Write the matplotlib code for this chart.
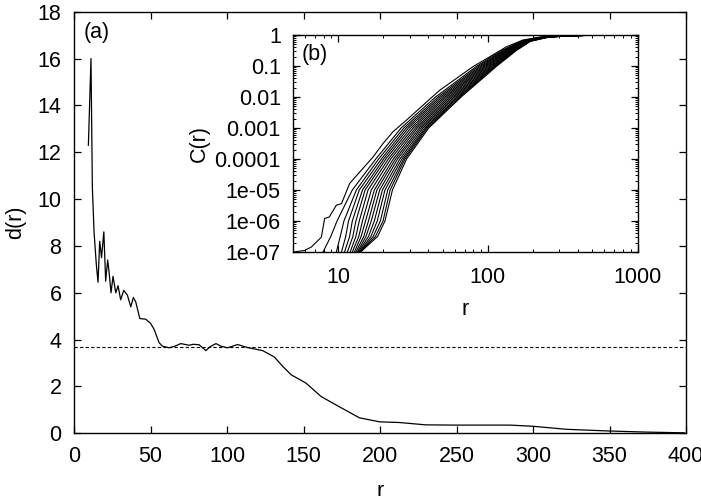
import matplotlib
matplotlib.use('Agg')
import matplotlib.pyplot as plt
import numpy as np
from matplotlib.ticker import FixedLocator, FixedFormatter, LogLocator, NullFormatter

plt.rcParams['font.family'] = ['Liberation Sans', 'DejaVu Sans']

# ---------------- main panel (a) ----------------
r_main = [9.4, 11.1, 12.0, 13.1, 14.6, 15.7, 16.8, 18.0, 19.5, 20.7, 22.0, 22.9,
          24.2, 25.5, 27.3, 28.8, 30.5, 32.5, 34.9, 37.1, 38.8, 40.4, 43.0, 46.9,
          50.0, 52.4, 55.6, 57.8, 62.2, 66.0, 69.8, 75.2, 78.0, 81.8, 86.2, 89.0,
          92.8, 96.0, 100.4, 106.9, 113.5, 123.3, 130.9, 136.4, 141.9, 151.7,
          161.5, 173.5, 186.6, 199.7, 212.8, 230.0, 250.0, 270.0, 285.0, 300.0,
          322.0, 349.0, 375.0, 399.0]
d_main = [12.3, 16.0, 10.5, 8.6, 7.2, 6.45, 8.2, 7.5, 8.6, 6.5, 7.4, 6.9,
          6.0, 6.7, 6.0, 6.3, 5.7, 6.1, 5.9, 5.4, 5.8, 5.6, 4.9, 4.87,
          4.7, 4.43, 3.87, 3.72, 3.65, 3.72, 3.83, 3.76, 3.8, 3.78, 3.53, 3.7,
          3.83, 3.72, 3.65, 3.79, 3.66, 3.53, 3.26, 2.86, 2.5, 2.14,
          1.57, 1.13, 0.66, 0.49, 0.46, 0.36, 0.35, 0.35, 0.35, 0.3,
          0.17, 0.1, 0.05, 0.02]
d_plateau = 3.7
main_xticks = [0, 50, 100, 150, 200, 250, 300, 350, 400]
main_yticks = [0, 2, 4, 6, 8, 10, 12, 14, 16, 18]

# ---------------- inset panel (b) ----------------
# leftmost curve, read in detail (r, log10 C)
inset_c0_r = [5.0, 5.95, 6.6, 7.7, 8.1, 8.7, 9.7, 10.5, 11.9, 13.9, 17.1, 19.9,
              23.2, 28.5, 36.9, 47.7, 61.6, 79.5, 103, 133, 172, 223, 300, 600]
inset_c0_logc = [-7.0, -6.95, -6.84, -6.52, -5.92, -5.87, -5.49, -5.44, -4.79,
                 -4.42, -3.93, -3.5, -3.12, -2.75, -2.26, -1.78, -1.4, -1.02,
                 -0.70, -0.38, -0.16, -0.07, -0.03, 0.0]
# other curves: r where log10 C reaches each level (curves 1..15, left to right)
inset_levels = [-7, -6.5, -6, -5, -4, -3, -2, -1, -0.5, -0.2, -0.08, -0.03, 0]
inset_r_at_level = [
    [7.9, 9.7, 10.5, 11.0, 11.5, 12.0, 12.4, 12.8, 13.1, 13.4, 13.6, 13.8, 13.9, 14.0, 14.1],
    [8.9, 10.3, 11.2, 11.9, 12.5, 13.1, 13.7, 14.2, 14.8, 15.3, 15.9, 16.5, 17.1, 17.7, 18.3],
    [9.8, 10.9, 11.7, 12.4, 13.1, 13.8, 14.5, 15.2, 15.9, 16.6, 17.4, 18.2, 19.1, 19.9, 20.5],
    [12.4, 13.2, 13.8, 14.5, 15.1, 15.8, 16.6, 17.4, 18.1, 18.9, 19.7, 20.5, 21.4, 22.2, 23.0],
    [17.8, 18.6, 19.4, 20.1, 20.8, 21.6, 22.4, 23.3, 24.1, 24.9, 25.8, 26.6, 27.3, 27.9, 28.6],
    [26.3, 27.4, 28.4, 29.4, 30.5, 31.6, 32.7, 33.7, 34.8, 35.8, 36.8, 37.8, 38.6, 39.4, 40.2],
    [44.7, 46.5, 48.1, 49.7, 51.3, 52.8, 54.5, 56.1, 57.7, 59.3, 60.8, 62.4, 63.7, 65.0, 66.2],
    [84.5, 87.1, 89.5, 91.8, 94.2, 96.4, 98.6, 100.9, 103.3, 105.4, 107.6, 109.6, 111.4, 113.2, 114.8],
    [123.9, 126.8, 129.4, 131.8, 134.3, 136.8, 139.3, 141.6, 143.9, 146.2, 148.3, 150.3, 152.1, 153.5, 154.9],
    [167, 169, 171, 173, 175, 177, 179, 181, 183, 185, 187, 189, 190.5, 192, 193],
    [217.5, 220, 222.5, 225, 227.5, 230, 232, 234, 236, 238, 240, 242, 245, 247.5, 250],
    [302, 304, 306, 308, 310, 312, 314, 316, 318, 320, 322, 324, 326, 328, 330],
    [600, 600, 600, 600, 600, 600, 600, 600, 600, 600, 600, 600, 600, 600, 600],
]
inset_xticks = [10, 100, 1000]
inset_xticklabels = ['10', '100', '1000']
inset_yticks = [1e-7, 1e-6, 1e-5, 1e-4, 1e-3, 1e-2, 1e-1, 1]
inset_yticklabels = ['1e-07', '1e-06', '1e-05', '0.0001', '0.001', '0.01', '0.1', '1']

FS = 15.5
W, H = 701, 496
fig = plt.figure(figsize=(W / 100, H / 100), dpi=100)

# main axes
ax = fig.add_axes([74 / W, 1 - 433.3 / H, (686 - 74) / W, (433.3 - 11.7) / H])
ax.plot(r_main, d_main, color='black', lw=0.9)
ax.axhline(d_plateau, color='black', lw=0.8, ls=(0, (3, 2)))
ax.set_xlim(0, 400)
ax.set_ylim(0, 18)
ax.set_xticks(main_xticks)
ax.set_yticks(main_yticks)
ax.tick_params(direction='in', top=True, right=True, length=5, width=0.9,
               labelsize=FS, pad=9)
for s in ax.spines.values():
    s.set_linewidth(1.0)
ax.set_xlabel('r', fontsize=FS, labelpad=10)
ax.set_ylabel('d(r)', fontsize=FS, labelpad=8)
ax.text(0.015, 0.975, '(a)', transform=ax.transAxes, va='top', ha='left', fontsize=FS)

# inset axes
ai = fig.add_axes([293.3 / W, 1 - 252 / H, (637.5 - 293.3) / W, (252 - 35) / H])
ai.set_facecolor('white')
ai.plot(inset_c0_r, [10 ** v for v in inset_c0_logc], color='black', lw=0.8)
ncurves = len(inset_r_at_level[0])
for k in range(ncurves):
    rr = [row[k] for row in inset_r_at_level]
    cc = [10 ** v for v in inset_levels]
    ai.plot(rr, cc, color='black', lw=0.8)
ai.set_xscale('log')
ai.set_yscale('log')
ai.set_xlim(5, 1000)
ai.set_ylim(1e-7, 1)
ai.xaxis.set_major_locator(FixedLocator(inset_xticks))
ai.xaxis.set_major_formatter(FixedFormatter(inset_xticklabels))
ai.xaxis.set_minor_locator(LogLocator(base=10, subs=np.arange(2, 10), numticks=20))
ai.xaxis.set_minor_formatter(NullFormatter())
ai.yaxis.set_major_locator(FixedLocator(inset_yticks))
ai.yaxis.set_major_formatter(FixedFormatter(inset_yticklabels))
ai.yaxis.set_minor_locator(LogLocator(base=10, subs=np.arange(2, 10), numticks=20))
ai.yaxis.set_minor_formatter(NullFormatter())
ai.tick_params(axis='x', which='major', pad=11)
ai.tick_params(axis='y', which='major', pad=9)
ai.tick_params(which='major', direction='in', top=True, right=True, length=5,
               width=0.9, labelsize=FS)
ai.tick_params(which='minor', direction='in', top=True, right=True, length=2.5,
               width=0.7)
for s in ai.spines.values():
    s.set_linewidth(1.0)
ai.set_xlabel('r', fontsize=FS, labelpad=8)
ai.set_ylabel('C(r)', fontsize=FS, labelpad=3)
ai.text(0.025, 0.96, '(b)', transform=ai.transAxes, va='top', ha='left', fontsize=FS)

fig.savefig('out.png', dpi=100)
